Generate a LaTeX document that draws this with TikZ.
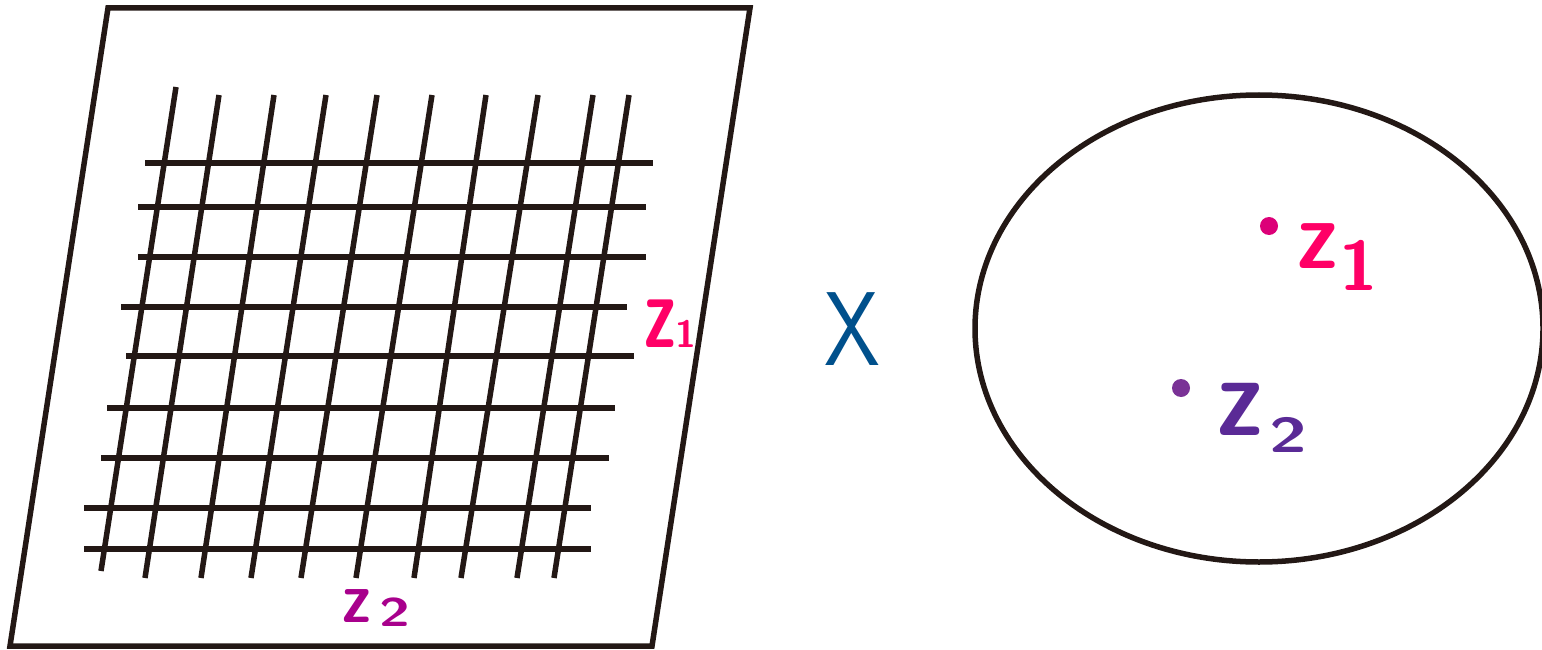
\documentclass[tikz,border=0pt]{standalone}
\usepackage{fontspec}
\usepackage{graphicx}
\definecolor{ink}{HTML}{231815}
\definecolor{zpink}{HTML}{FF0066}
\definecolor{zmag}{HTML}{A8008C}
\definecolor{zpurple}{HTML}{5A2A96}
\definecolor{dotmag}{HTML}{DC0078}
\definecolor{dotpurple}{HTML}{7A3296}
\definecolor{xblue}{HTML}{00508C}
% #1 z size, #2 z xscale, #3 digit, #4 digit size, #5 digit xscale, #6 lowering, #7 kern
\newcommand\zlabelbox[7]{\sffamily\bfseries\fontsize{#1}{#1}\selectfont\scalebox{#2}[1]{z}\kern#7pt\raisebox{-#6pt}{\fontsize{#4}{#4}\selectfont\scalebox{#5}[1]{#3}}}
\begin{document}
\begin{tikzpicture}[x=1pt,y=-1pt,
  frame/.style={draw=ink,line width=5.5pt,line join=miter},
  gridline/.style={draw=ink,line width=5.5pt},
  lbl/.style={anchor=base west,inner sep=0pt,outer sep=0pt},
  pt/.style={circle,inner sep=0pt,minimum size=18pt}]
\useasboundingbox (0,0) rectangle (1542,650);
% parallelogram plane
\draw[frame] (108,8) -- (750,8) -- (652,646) -- (10,646) -- cycle;
% slanted lines
\foreach \xt/\yt/\xb/\yb in {176/87/101/571,219/95/145/578,274/95/201/578,326/95/251/578,377/95/301/578,432/95/356/578,486/95/414/578,538/95/461/578,593/95/517/578,629/95/554/578}
  \draw[gridline] (\xt,\yt) -- (\xb,\yb);
% horizontal lines
\foreach \y/\xa/\xb in {163/145/653,207/138/646,257/138/646,307/121/627,356/126/634,408/107/615,458/101/609,508/84/591,549/84/591}
  \draw[gridline] (\xa,\y) -- (\xb,\y);
% labels on plane
\node[lbl,text=zpink] (z1left) at (644,347) {\zlabelbox{104}{0.64}{1}{38}{1}{0}{0}};
\node[lbl,text=zmag] (z2left) at (342,622) {\zlabelbox{72}{0.84}{2}{40}{1.4}{4}{9}};
% times sign
\node[anchor=base,inner sep=0pt,text=xblue] (times) at (852,365) {\sffamily\fontsize{105}{105}\selectfont\scalebox{0.85}[1]{X}};
% ellipse X
\draw[frame] (1259,328.5) ellipse [x radius=284,y radius=233.5];
\node[pt,fill=dotmag] (p1) at (1269,226) {};
\node[pt,fill=dotpurple] (p2) at (1181,388) {};
\node[lbl,text=zpink] (z1right) at (1297,268) {\zlabelbox{98}{0.87}{1}{70}{1}{22}{2}};
\node[lbl,text=zpurple] (z2right) at (1217,435) {\zlabelbox{114}{0.84}{2}{49}{1.4}{17}{7}};
\end{tikzpicture}
\end{document}
